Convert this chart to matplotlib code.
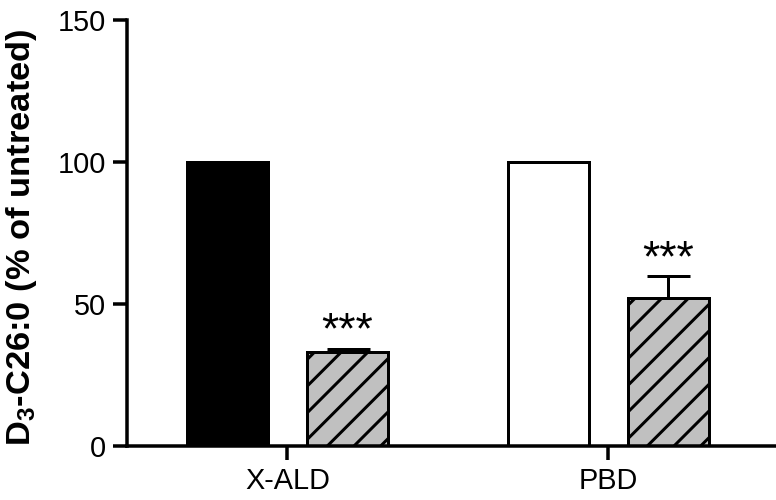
import matplotlib
matplotlib.use('Agg')
from matplotlib import pyplot as plt

# data
groups = ['X-ALD', 'PBD']
untreated = [100, 100]
treated = [33.2, 52.1]
treated_err = [1.1, 7.7]
untreated_colors = ['black', 'white']
stars = ['***', '***']

DPI = 160
PX = 72 / DPI  # points per pixel

plt.rcParams['font.family'] = ['Liberation Sans', 'DejaVu Sans']
plt.rcParams['mathtext.fontset'] = 'custom'
plt.rcParams['mathtext.rm'] = 'Liberation Sans'
plt.rcParams['mathtext.bf'] = 'Liberation Sans:bold'
plt.rcParams['hatch.linewidth'] = 3 * PX
plt.rcParams['hatch.color'] = 'black'

fig = plt.figure(figsize=(776 / DPI, 500 / DPI), dpi=DPI)
ax = fig.add_axes([127 / 776, 54 / 500, 649 / 776, 426 / 500])

x = range(len(groups))
off = 0.187
w = 0.252
lw = 3 * PX

ax.bar([i - off for i in x], untreated, width=w, color=untreated_colors,
       edgecolor='black', linewidth=lw, zorder=2)
ax.bar([i + off for i in x], treated, width=w, color='#c0c0c0',
       edgecolor='black', linewidth=lw, hatch='//', zorder=2)
ax.errorbar([i + off for i in x], treated,
            yerr=[[0] * len(treated_err), treated_err],
            fmt='none', ecolor='black', elinewidth=lw, capsize=21.5 * PX,
            capthick=lw, zorder=1)

for i, (v, e, s) in enumerate(zip(treated, treated_err, stars)):
    ax.annotate(s, (i + off, v + e), xytext=(0, 5 * PX), textcoords='offset points',
                ha='center', va='baseline', fontsize=20)

ax.set_xlim(-0.5, 1.522)
ax.set_ylim(0, 150)
ax.set_yticks([0, 50, 100, 150])
ax.set_xticks(list(x))
ax.set_xticklabels(groups)

for s in ['top', 'right']:
    ax.spines[s].set_visible(False)
for s in ['left', 'bottom']:
    ax.spines[s].set_linewidth(3.5 * PX)
ax.tick_params(axis='both', which='major', labelsize=13, length=14 * PX,
               width=3.5 * PX, pad=7 * PX, direction='out')

ax.set_ylabel(r'D$_\mathbf{3}$-C26:0 (% of untreated)', fontsize=15.5,
              fontweight='bold')
ax.yaxis.set_label_coords(-0.135, 0.49)

plt.savefig('out.png', dpi=DPI)
